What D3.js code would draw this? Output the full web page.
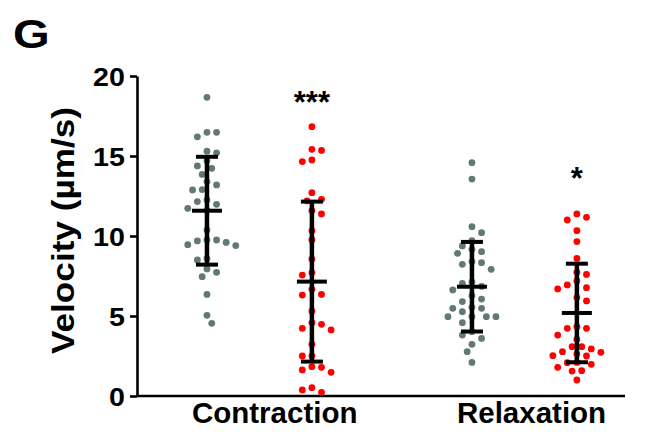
<!DOCTYPE html>
<html lang="en">
<head>
    <meta charset="UTF-8">
    <title>Velocity scatter</title>
    <script src="https://d3js.org/d3.v7.min.js"></script>
    <style>
        body { margin: 0; background: #fff; }
        text { font-family: "Liberation Sans", Arial, sans-serif; font-weight: bold; fill: #000; }
        .axis path, .axis line { stroke: #000; stroke-width: 2.6px; }
        .bar { stroke: #000; stroke-linecap: butt; }
    </style>
</head>
<body>
    <script>
    // values (µm/s)
    const categories = ["Contraction", "Relaxation"];
    const conditions = ["Control", "Treated"];
    const colors = ["#607876", "#ff0000"];
    const yTicks = [0, 5, 10, 15, 20];
    const sigLabels = ["***", "*"];

    const contractionControl = [18.67, 16.48, 16.48, 16.2, 15.2, 15.3, 14.7, 14.23, 14.38, 13.85, 13.19, 13.4,
        12.88, 12.9, 12.25, 12.15, 11.98, 11.73, 11.6, 10.38, 9.75, 9.6, 9.4, 9.46, 9.69, 9.75, 8.6, 8.5,
        7.94, 7.46, 7.73, 6.35, 5.04, 4.54];
    const contractionTreated = [16.83, 15.42, 15.35, 14.65, 14.75, 12.71, 12.29, 12.2, 11.38, 11.58, 10.33,
        9.75, 8.56, 7.71, 7.56, 6.67, 6.35, 6.31, 5.31, 4.58, 4.48, 4.23, 4.13, 3.23, 2.5, 2.5, 1.83, 1.63,
        1.48, 1.79, 0.52, 0.23, 0.38];
    const relaxationControl = [14.58, 13.56, 10.58, 10.21, 9.71, 9.38, 9.17, 8.92, 9.02, 8.4, 8.23, 8.33,
        7.92, 7.04, 7.13, 6.85, 6.63, 6.27, 6.06, 5.9, 5.48, 5.48, 5.54, 5.27, 4.96, 4.96, 4.96, 4.96, 4.58,
        4.02, 3.81, 3.6, 3.23, 2.77, 2.1];
    const relaxationTreated = [11.38, 11.17, 11.0, 10.33, 9.65, 8.6, 7.73, 7.6, 7.19, 6.94, 6.77, 6.69,
        6.15, 5.94, 4.23, 3.81, 4.23, 4.33, 3.54, 3.08, 3.08, 2.77, 2.63, 2.5, 2.52, 2.73, 2.94, 1.98, 2.08,
        2.1, 1.58, 1.79, 1.56, 1.0];

    // mean and SD
    const means = [[11.58, 7.15], [6.83, 5.19]];
    const sds = [[3.37, 5.0], [2.8, 3.08]];

    const series = [
        [contractionControl, contractionTreated],
        [relaxationControl, relaxationTreated]
    ];

    const width = 649, height = 432;
    const margin = {top: 76, right: 24, bottom: 36, left: 137};
    const innerW = width - margin.left - margin.right;
    const innerH = height - margin.top - margin.bottom;

    const svg = d3.select("body").append("svg")
        .attr("width", width)
        .attr("height", height);

    const g = svg.append("g")
        .attr("transform", `translate(${margin.left},${margin.top})`);

    const y = d3.scaleLinear().domain([0, 20]).range([innerH, 0]);

    const x0 = d3.scalePoint()
        .domain(categories)
        .range([0, innerW])
        .padding(0.4208)
        .align(0.549);

    const half = x0.step() * 0.198;
    const x1 = d3.scalePoint().domain(conditions).range([-half, half]);

    const r = 3.4, step = 4.8, minD = 8.4;

    // simple beeswarm: nearest free column offset, alternating sides
    function swarm(values) {
        const pts = values.map(v => ({v: v, py: y(v)})).sort((a, b) => a.py - b.py);
        const placed = [];
        let flip = 1;
        pts.forEach(p => {
            for (let k = 0; k < 40; k++) {
                const cands = k === 0 ? [0] : [flip * k * step, -flip * k * step];
                const dx = cands.find(c => placed.every(q =>
                    Math.hypot(q.dx - c, q.py - p.py) >= minD));
                if (dx !== undefined) {
                    p.dx = dx;
                    if (dx !== 0) flip = -flip;
                    break;
                }
            }
            placed.push(p);
        });
        return placed;
    }

    // axes
    const yAxis = g.append("g")
        .attr("class", "axis")
        .call(d3.axisLeft(y).tickValues(yTicks).tickSize(7).tickPadding(4).tickSizeOuter(0));
    yAxis.selectAll("text")
        .style("font-size", "26px")
        .attr("dy", "0.36em")
        .attr("transform", "scale(1.1,1)");

    const xAxis = g.append("g")
        .attr("class", "axis")
        .attr("transform", `translate(0,${innerH})`)
        .call(d3.axisBottom(x0).tickSize(0).tickSizeOuter(0).tickFormat(""));
    xAxis.select(".domain").attr("d", `M0,0H${innerW}`);

    g.append("g").selectAll("text")
        .data(categories)
        .join("text")
        .attr("x", d => x0(d) + x1(conditions[0]) - 15)
        .attr("y", innerH + 27)
        .attr("text-anchor", "start")
        .style("font-size", "29.5px")
        .text(d => d);

    // dots
    categories.forEach((c, ci) => {
        conditions.forEach((k, ki) => {
            const cx = x0(c) + x1(k);
            const pts = swarm(series[ci][ki]);
            g.append("g").selectAll("circle")
                .data(pts)
                .join("circle")
                .attr("cx", d => cx + d.dx)
                .attr("cy", d => y(d.v))
                .attr("r", r)
                .attr("fill", colors[ki]);
        });
    });

    // mean +/- SD bars
    categories.forEach((c, ci) => {
        conditions.forEach((k, ki) => {
            const cx = x0(c) + x1(k);
            const m = means[ci][ki], s = sds[ci][ki];
            const eb = g.append("g");
            eb.append("line").attr("class", "bar")
                .attr("x1", cx).attr("x2", cx)
                .attr("y1", y(m + s)).attr("y2", y(m - s))
                .attr("stroke-width", 4.5);
            [m + s, m - s].forEach(v => {
                eb.append("line").attr("class", "bar")
                    .attr("x1", cx - 11).attr("x2", cx + 11)
                    .attr("y1", y(v)).attr("y2", y(v))
                    .attr("stroke-width", 4);
            });
            eb.append("line").attr("class", "bar")
                .attr("x1", cx - 15).attr("x2", cx + 15)
                .attr("y1", y(m)).attr("y2", y(m))
                .attr("stroke-width", 4);
        });
    });

    // significance marks above treated groups
    g.append("g").selectAll("text")
        .data(categories)
        .join("text")
        .attr("x", c => x0(c) + x1(conditions[1]))
        .attr("y", (c, i) => {
            const top = y(d3.max(series[i].flat()));
            const own = y(d3.max(series[i][1]));
            return (top + own) / 2 + 1;
        })
        .attr("text-anchor", "middle")
        .style("font-size", "31px")
        .text((c, i) => sigLabels[i]);

    // y title
    svg.append("text")
        .attr("transform", `translate(74,${(margin.top + 27 + height - margin.bottom - 46) / 2 + 4}) rotate(-90)`)
        .attr("text-anchor", "middle")
        .attr("textLength", 247)
        .attr("lengthAdjust", "spacingAndGlyphs")
        .style("font-size", "31px")
        .text("Velocity (µm/s)");

    // panel letter
    svg.append("text")
        .attr("transform", "translate(13,48) scale(1.18,1)")
        .style("font-size", "40px")
        .text("G");
    </script>
</body>
</html>
